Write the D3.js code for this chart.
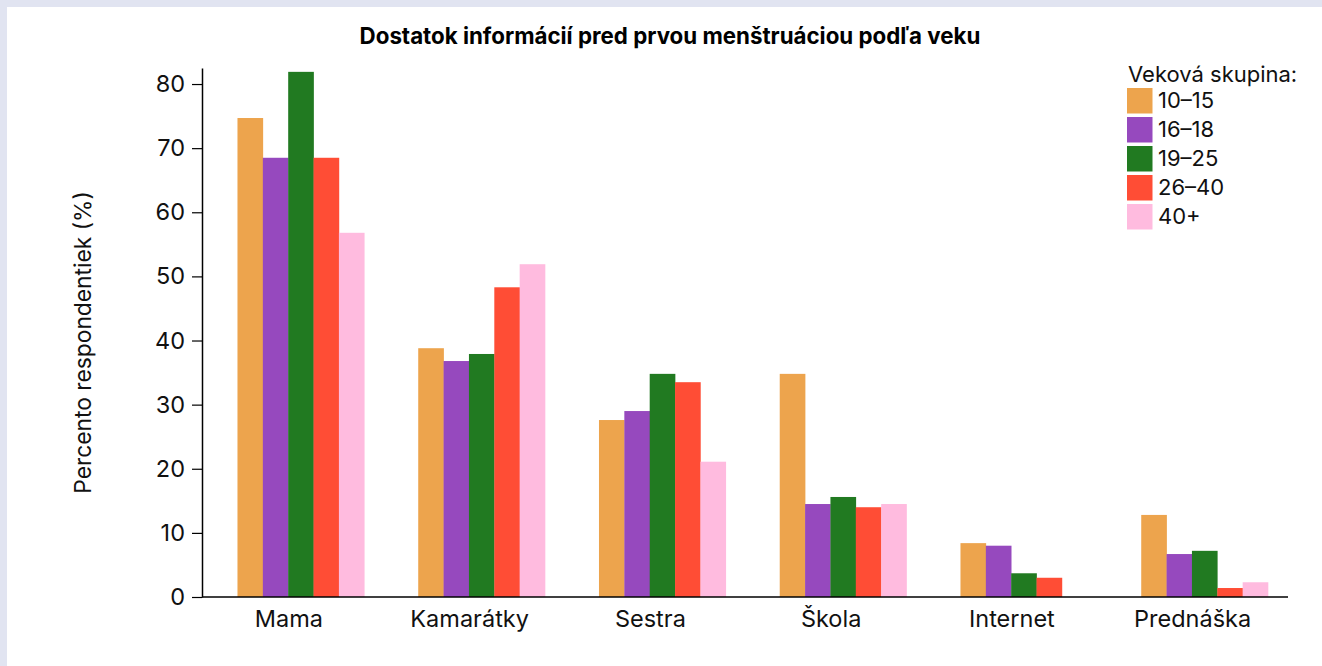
<!DOCTYPE html>
<html lang="sk">
<head>
    <meta charset="UTF-8">
    <title>Dostatok informácií pred prvou menštruáciou podľa veku</title>
    <script src="https://d3js.org/d3.v7.min.js"></script>
    <style>
        body {
            margin: 0;
            padding: 0;
            background-color: #e1e4f1;
            font-family: Inter, "Noto Sans", Arial, sans-serif;
        }

        #chart {
            display: block;
        }
    </style>
</head>
<body>
    <svg id="chart"></svg>

    <script>
        // data
        const sources = ["Mama", "Kamarátky", "Sestra", "Škola", "Internet", "Prednáška"];
        const ageGroups = ["10–15", "16–18", "19–25", "26–40", "40+"];
        const colors = ["#eda44d", "#9649be", "#217a21", "#ff4d35", "#ffbbdf"];

        const v10_15 = [74.7, 38.8, 27.6, 34.8, 8.4, 12.8];
        const v16_18 = [68.5, 36.8, 29.0, 14.5, 8.0, 6.7];
        const v19_25 = [81.9, 37.9, 34.8, 15.6, 3.7, 7.2];
        const v26_40 = [68.5, 48.3, 33.5, 14.0, 3.0, 1.4];
        const v40plus = [56.8, 51.9, 21.1, 14.5, null, 2.3];

        const yTicks = [0, 10, 20, 30, 40, 50, 60, 70, 80];

        const series = [v10_15, v16_18, v19_25, v26_40, v40plus];

        const width = 1322;
        const height = 666;

        const plot = { left: 202, right: 1288, top: 68, bottom: 597 };

        const svg = d3.select("#chart")
            .attr("width", width)
            .attr("height", height);

        // white panel on the lavender frame
        svg.append("rect")
            .attr("x", 7)
            .attr("y", 7)
            .attr("width", width - 7)
            .attr("height", height - 7)
            .attr("fill", "#ffffff");

        const x0 = d3.scaleBand()
            .domain(sources)
            .range([198.5, 1283]);

        const groupWidth = 126.8;
        const barShift = 12;

        const x1 = d3.scaleBand()
            .domain(ageGroups)
            .range([-groupWidth / 2, groupWidth / 2]);

        const y = d3.scaleLinear()
            .domain([0, 82.5])
            .range([plot.bottom, plot.top]);

        const color = d3.scaleOrdinal()
            .domain(ageGroups)
            .range(colors);

        const rows = [];
        sources.forEach((s, i) => {
            ageGroups.forEach((g, j) => {
                if (series[j][i] != null) rows.push({ source: s, group: g, value: series[j][i] });
            });
        });

        svg.append("g")
            .selectAll("rect")
            .data(rows)
            .join("rect")
            .attr("x", d => x0(d.source) + x0.bandwidth() / 2 + barShift + x1(d.group))
            .attr("y", d => y(d.value))
            .attr("width", x1.bandwidth() + 0.3)
            .attr("height", d => y(0) - y(d.value))
            .attr("fill", d => color(d.group));

        // y axis
        const yAxis = svg.append("g")
            .attr("transform", `translate(${plot.left},0)`)
            .call(d3.axisLeft(y).tickValues(yTicks).tickSize(10).tickSizeOuter(0).tickPadding(7));

        yAxis.select(".domain").attr("stroke", "#000").attr("stroke-width", 1.5);
        yAxis.selectAll(".tick line").attr("stroke", "#000").attr("stroke-width", 1.2);
        yAxis.selectAll(".tick text")
            .attr("font-family", "Inter, sans-serif")
            .attr("font-size", "23.5px")
            .attr("fill", "#111");

        // x axis
        const xAxis = svg.append("g")
            .attr("transform", `translate(0,${plot.bottom})`)
            .call(d3.axisBottom(x0).tickSize(0).tickPadding(13));

        xAxis.select(".domain").remove();
        xAxis.selectAll(".tick text")
            .attr("font-family", "Inter, sans-serif")
            .attr("font-size", "23.5px")
            .attr("fill", "#111");

        svg.append("line")
            .attr("x1", plot.left)
            .attr("x2", plot.right)
            .attr("y1", y(0))
            .attr("y2", y(0))
            .attr("stroke", "#000")
            .attr("stroke-width", 1.5);

        // title
        svg.append("text")
            .attr("x", 670)
            .attr("y", 44)
            .attr("text-anchor", "middle")
            .attr("font-size", "22.3px")
            .attr("font-weight", "bold")
            .attr("fill", "#000")
            .text("Dostatok informácií pred prvou menštruáciou podľa veku");

        // y label
        svg.append("text")
            .attr("transform", `translate(91,${(plot.top + plot.bottom) / 2 + 10}) rotate(-90)`)
            .attr("text-anchor", "middle")
            .attr("font-size", "22.8px")
            .attr("fill", "#111")
            .text("Percento respondentiek (%)");

        // legend
        const legend = svg.append("g")
            .attr("transform", "translate(1127,0)");

        legend.append("text")
            .attr("x", 1)
            .attr("y", 82)
            .attr("font-size", "22px")
            .attr("fill", "#111")
            .text("Veková skupina:");

        const items = legend.selectAll(".item")
            .data(ageGroups)
            .join("g")
            .attr("class", "item")
            .attr("transform", (d, i) => `translate(0,${88 + i * 29})`);

        items.append("rect")
            .attr("width", 25.5)
            .attr("height", 25.5)
            .attr("fill", d => color(d));

        items.append("text")
            .attr("x", 31)
            .attr("y", 12.75)
            .attr("dy", "0.35em")
            .attr("font-size", "22px")
            .attr("fill", "#111")
            .text(d => d);
    </script>
</body>
</html>
